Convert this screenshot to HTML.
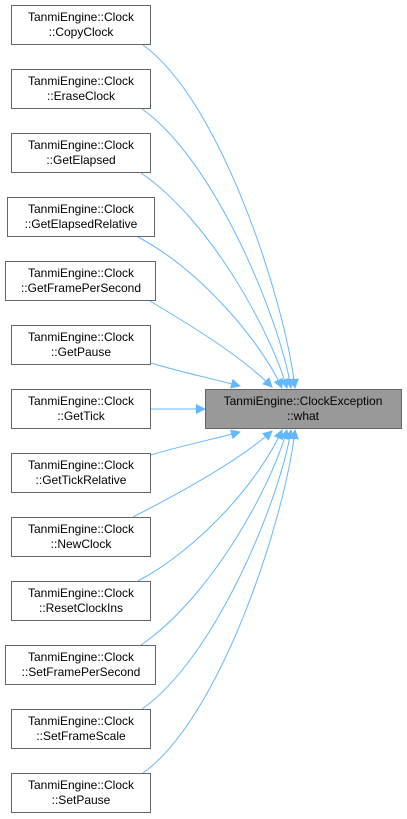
<!DOCTYPE html>
<html><head><style>body{margin:0;background:#fff}svg{display:block}</style></head><body>
<svg width="407" height="819" xmlns="http://www.w3.org/2000/svg" font-family="Liberation Sans, sans-serif" font-size="12">
<defs><marker id="a" viewBox="0 0 10 10" refX="9" refY="5" markerWidth="10" markerHeight="10" markerUnits="userSpaceOnUse" orient="auto"><path d="M0,0 L10,5 L0,10z" fill="#63b8ff"/></marker></defs>
<g fill="none" stroke="#63b8ff" stroke-width="1" marker-end="url(#a)">
<path d="M143,45 C220,100 285,300 295,388"/>
<path d="M142,109 C215,160 280,320 291,388"/>
<path d="M141,173 C210,220 270,330 287,388"/>
<path d="M138,237 C200,270 260,340 282,388"/>
<path d="M150,301 C190,325 240,355 272,387"/>
<path d="M151,363 C180,372 210,378 240,386"/>
<path d="M151,409 L205,409"/>
<path d="M151,455 C180,446 210,440 240,432"/>
<path d="M133,517 C180,493 240,460 272,431"/>
<path d="M138,581 C200,548 260,480 282,430"/>
<path d="M141,645 C210,598 270,490 287,430"/>
<path d="M142,709 C215,658 280,500 291,430"/>
<path d="M143,773 C220,718 285,520 295,430"/>
</g>
<g stroke="#666" fill="#fff">
<rect x="11.5" y="5.5" width="139" height="39"/>
<rect x="11.5" y="69.5" width="139" height="39"/>
<rect x="11.5" y="133.5" width="139" height="39"/>
<rect x="7.5" y="197.5" width="147" height="39"/>
<rect x="5.5" y="261.5" width="150" height="39"/>
<rect x="11.5" y="325.5" width="139" height="39"/>
<rect x="11.5" y="389.5" width="139" height="39"/>
<rect x="11.5" y="453.5" width="139" height="39"/>
<rect x="11.5" y="517.5" width="139" height="39"/>
<rect x="11.5" y="581.5" width="139" height="39"/>
<rect x="5.5" y="645.5" width="150" height="39"/>
<rect x="11.5" y="709.5" width="139" height="39"/>
<rect x="11.5" y="773.5" width="139" height="39"/>
<rect x="205.5" y="389.5" width="196" height="39" fill="#999"/>
</g>
<g text-anchor="middle" fill="#000">
<text x="81" y="21">TanmiEngine::Clock</text><text x="81" y="36">::CopyClock</text>
<text x="81" y="85">TanmiEngine::Clock</text><text x="81" y="100">::EraseClock</text>
<text x="81" y="149">TanmiEngine::Clock</text><text x="81" y="164">::GetElapsed</text>
<text x="81" y="213">TanmiEngine::Clock</text><text x="81" y="228">::GetElapsedRelative</text>
<text x="81" y="277">TanmiEngine::Clock</text><text x="81" y="292">::GetFramePerSecond</text>
<text x="81" y="341">TanmiEngine::Clock</text><text x="81" y="356">::GetPause</text>
<text x="81" y="405">TanmiEngine::Clock</text><text x="81" y="420">::GetTick</text>
<text x="81" y="469">TanmiEngine::Clock</text><text x="81" y="484">::GetTickRelative</text>
<text x="81" y="533">TanmiEngine::Clock</text><text x="81" y="548">::NewClock</text>
<text x="81" y="597">TanmiEngine::Clock</text><text x="81" y="612">::ResetClockIns</text>
<text x="81" y="661">TanmiEngine::Clock</text><text x="81" y="676">::SetFramePerSecond</text>
<text x="81" y="725">TanmiEngine::Clock</text><text x="81" y="740">::SetFrameScale</text>
<text x="81" y="789">TanmiEngine::Clock</text><text x="81" y="804">::SetPause</text>
<text x="303" y="405">TanmiEngine::ClockException</text><text x="303" y="420">::what</text>
</g>
</svg>
</body></html>
